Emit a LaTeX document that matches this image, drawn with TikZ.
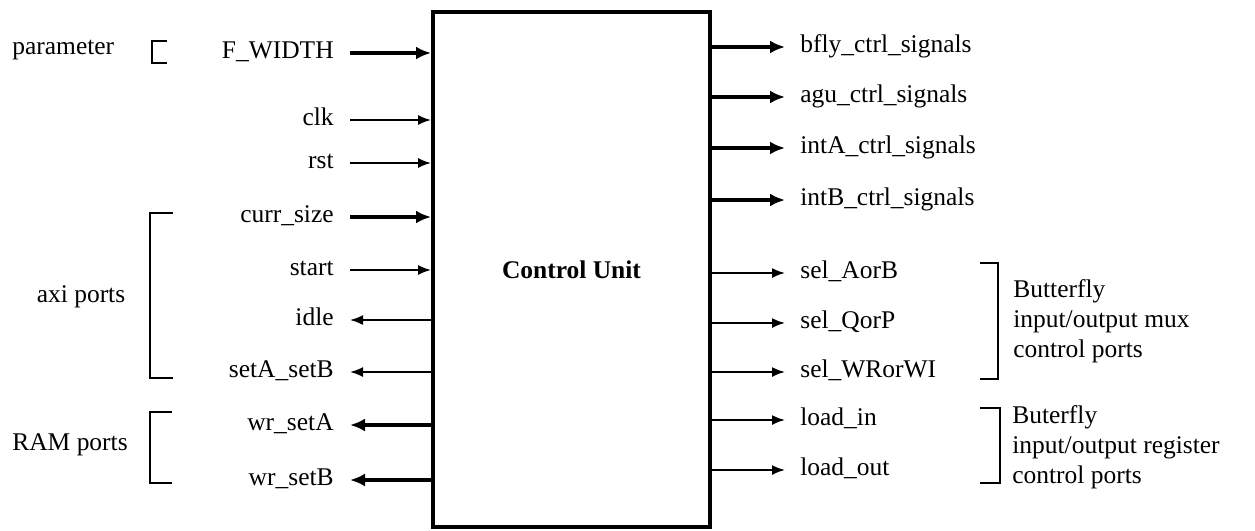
\documentclass[tikz,border=0pt]{standalone}
\usepackage{fontspec}
\setmainfont{Liberation Serif}
\usetikzlibrary{arrows.meta, positioning}
\tikzset{
    font=\fontsize{14.5}{17}\selectfont,
    unitbox/.style={rectangle, draw, line width=0.08cm, minimum width=5.54cm, minimum height=10.3cm, font=\fontsize{14.5}{17}\selectfont\bfseries},
    inport/.style={anchor=east, inner xsep=0.32cm, inner ysep=0pt, text height=0.7em, text depth=0.1em},
    outport/.style={anchor=west, inner xsep=0.3cm, inner ysep=0pt, text height=0.7em, text depth=0.1em},
    grouptext/.style={align=left, inner sep=0pt},
    busarrow/.style={-{Latex[length=0.3cm, width=0.26cm]}, line width=0.08cm},
    wirearrow/.style={-{Latex[length=0.26cm, width=0.2cm]}, line width=0.035cm},
    bracket/.style={line width=0.03cm}
}
\begin{document}
\begin{tikzpicture}[x=0.02cm, y=-0.02cm]

    \useasboundingbox (0,0) rectangle (1255,531);

    % Control unit
    \node (cu) [unitbox] at (571.5,269.5) {Control Unit};

    % Left ports
    \node (fwidth)  [inport] at (350,53)  {F\_WIDTH};
    \node (clk)     [inport] at (350,120) {clk};
    \node (rst)     [inport] at (350,163) {rst};
    \node (currsz)  [inport] at (350,217) {curr\_size};
    \node (start)   [inport] at (350,270) {start};
    \node (idle)    [inport] at (350,320) {idle};
    \node (setab)   [inport] at (350,372) {setA\_setB};
    \node (wrseta)  [inport] at (350,425) {wr\_setA};
    \node (wrsetb)  [inport] at (350,480) {wr\_setB};

    % Right ports
    \node (bfly)    [outport] at (785,47)  {bfly\_ctrl\_signals};
    \node (agu)     [outport] at (785,97)  {agu\_ctrl\_signals};
    \node (inta)    [outport] at (785,148) {intA\_ctrl\_signals};
    \node (intb)    [outport] at (785,200) {intB\_ctrl\_signals};
    \node (selab)   [outport] at (785,273) {sel\_AorB};
    \node (selqp)   [outport] at (785,323) {sel\_QorP};
    \node (selwr)   [outport] at (785,372) {sel\_WRorWI};
    \node (ldin)    [outport] at (785,420) {load\_in};
    \node (ldout)   [outport] at (785,470) {load\_out};

    % Group labels
    \node (lblparam) [grouptext, anchor=west] at (12,50)  {parameter};
    \node (lblaxi)   [grouptext] at (81,297)  {axi ports};
    \node (lblram)   [grouptext, anchor=west] at (12,445) {RAM ports};
    \node (lblmux)   [grouptext, anchor=west] at (1013,321) {Butterfly\\input/output mux\\control ports};
    \node (lblreg)   [grouptext, anchor=west] at (1012,447) {Buterfly\\input/output register\\control ports};

    % Inputs
    \draw [busarrow]  (fwidth.east) -- (fwidth.east -| cu.west);
    \draw [wirearrow] (clk.east) -- (clk.east -| cu.west);
    \draw [wirearrow] (rst.east) -- (rst.east -| cu.west);
    \draw [busarrow]  (currsz.east) -- (currsz.east -| cu.west);
    \draw [wirearrow] (start.east) -- (start.east -| cu.west);

    % Outputs, left
    \draw [wirearrow] (idle.east -| cu.west) -- (idle.east);
    \draw [wirearrow] (setab.east -| cu.west) -- (setab.east);
    \draw [busarrow]  (wrseta.east -| cu.west) -- (wrseta.east);
    \draw [busarrow]  (wrsetb.east -| cu.west) -- (wrsetb.east);

    % Outputs, right
    \draw [busarrow]  (bfly.west -| cu.east) -- (bfly.west);
    \draw [busarrow]  (agu.west -| cu.east) -- (agu.west);
    \draw [busarrow]  (inta.west -| cu.east) -- (inta.west);
    \draw [busarrow]  (intb.west -| cu.east) -- (intb.west);
    \draw [wirearrow] (selab.west -| cu.east) -- (selab.west);
    \draw [wirearrow] (selqp.west -| cu.east) -- (selqp.west);
    \draw [wirearrow] (selwr.west -| cu.east) -- (selwr.west);
    \draw [wirearrow] (ldin.west -| cu.east) -- (ldin.west);
    \draw [wirearrow] (ldout.west -| cu.east) -- (ldout.west);

    % Brackets
    \coordinate (paramTop) at (167,41);
    \coordinate (paramBot) at (167,63);
    \coordinate (axiTop) at (173,213);
    \coordinate (axiBot) at (173,378);
    \coordinate (ramTop) at (172,412);
    \coordinate (ramBot) at (172,483);
    \coordinate (muxTop) at (980,263);
    \coordinate (muxBot) at (980,379);
    \coordinate (regTop) at (980,408);
    \coordinate (regBot) at (980,483);

    \draw [bracket] (paramTop) -- ++(-15,0) |- (paramBot);
    \draw [bracket] (axiTop) -- ++(-23,0) |- (axiBot);
    \draw [bracket] (ramTop) -- ++(-22,0) |- (ramBot);
    \draw [bracket] (muxTop) -- ++(18,0) |- (muxBot);
    \draw [bracket] (regTop) -- ++(20,0) |- (regBot);

\end{tikzpicture}
\end{document}
